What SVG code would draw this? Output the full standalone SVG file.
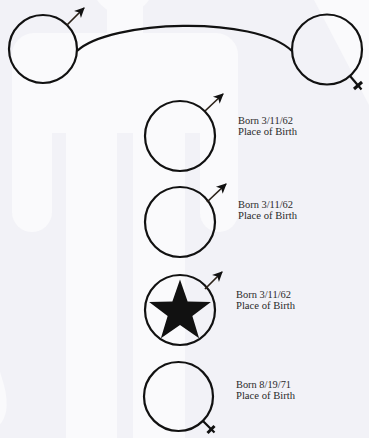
<svg xmlns="http://www.w3.org/2000/svg" width="369" height="438" viewBox="0 0 369 438">
<style>
.wm{fill:#fafafc;stroke:none}
.ring{fill:none;stroke:#111;stroke-width:2.2}
.male{stroke:#2b2118;stroke-width:1.7;fill:none;marker-end:url(#ah)}
.fem{stroke:#111;stroke-width:2.2;fill:none}
.cross{stroke:#111;stroke-width:3;fill:none}
.conn{fill:none;stroke:#111;stroke-width:2.2}
.lbl{font-family:"Liberation Serif","DejaVu Serif",serif;font-size:10px;fill:#2a2a2a}
</style>
<defs>
<marker id="ah" markerUnits="userSpaceOnUse" markerWidth="13" markerHeight="13" viewBox="-10 -6 12 12" refX="0" refY="0" orient="auto">
<path d="M1,0 L-8.5,-4.5 L-6,0 L-8.5,4.5 Z" fill="#111"/>
</marker>
</defs>
<rect width="369" height="438" fill="#f2f2f7"/>
<g id="watermark">
<circle class="wm" cx="123" cy="-17" r="31"/>
<rect class="wm" x="107" y="0" width="36" height="40"/>
<rect class="wm" x="12" y="33" width="226" height="100" rx="22"/>
<rect class="wm" x="12" y="60" width="40" height="172" rx="20"/>
<rect class="wm" x="200" y="60" width="38" height="172" rx="19"/>
<rect class="wm" x="66" y="80" width="51" height="360"/>
<rect class="wm" x="133" y="80" width="52" height="360"/>
<polygon class="wm" points="314,0 369,0 369,105"/>
<path class="wm" d="M0,372 L4,385 Q8,400 6,412 Q3,422 0,424 Z"/>
</g>
<g id="connectors">
<path class="conn" d="M77,51 C110,20 255,15 292,51"/>
</g>
<g id="father">
<circle class="ring" cx="43" cy="49" r="34"/>
<line class="male" x1="67" y1="25" x2="84" y2="8"/>
</g>
<g id="mother">
<circle class="ring" cx="327" cy="49.5" r="35"/>
<line class="fem" x1="350" y1="76" x2="361.5" y2="89.5"/>
<line class="cross" x1="354" y1="89" x2="362" y2="82"/>
</g>
<g id="child1">
<circle class="ring" cx="180" cy="136" r="35"/>
<line class="male" x1="205" y1="111" x2="223" y2="94"/>
<text class="lbl" x="238" y="124" textLength="55" lengthAdjust="spacingAndGlyphs">Born 3/11/62</text>
<text class="lbl" x="238" y="135" textLength="59" lengthAdjust="spacingAndGlyphs">Place of Birth</text>
</g>
<g id="child2">
<circle class="ring" cx="180" cy="222" r="35"/>
<line class="male" x1="207" y1="202" x2="226" y2="184"/>
<text class="lbl" x="238" y="208" textLength="55" lengthAdjust="spacingAndGlyphs">Born 3/11/62</text>
<text class="lbl" x="238" y="219" textLength="59" lengthAdjust="spacingAndGlyphs">Place of Birth</text>
</g>
<g id="child3">
<circle class="ring" cx="180" cy="310" r="35"/>
<polygon fill="#111" points="180,279.5 187.64,301.48 210.91,301.96 192.36,316.02 199.1,338.29 180,325 160.9,338.29 167.64,316.02 149.09,301.96 172.36,301.48"/>
<line class="male" x1="205" y1="289" x2="222" y2="272"/>
<text class="lbl" x="236" y="298" textLength="55" lengthAdjust="spacingAndGlyphs">Born 3/11/62</text>
<text class="lbl" x="236" y="309" textLength="59" lengthAdjust="spacingAndGlyphs">Place of Birth</text>
</g>
<g id="child4">
<circle class="ring" cx="178.5" cy="396.5" r="34.5"/>
<line class="fem" x1="203" y1="421" x2="214.5" y2="432.5"/>
<line class="cross" x1="207.5" y1="433" x2="214.5" y2="426"/>
<text class="lbl" x="236" y="388" textLength="55" lengthAdjust="spacingAndGlyphs">Born 8/19/71</text>
<text class="lbl" x="236" y="399" textLength="59" lengthAdjust="spacingAndGlyphs">Place of Birth</text>
</g>
</svg>
